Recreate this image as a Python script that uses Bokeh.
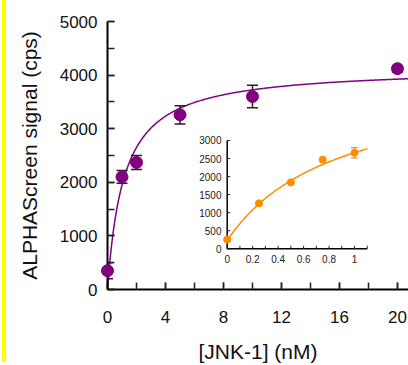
import numpy as np
from bokeh.plotting import figure
from bokeh.models import Range1d, SingleIntervalTicker
from bokeh.embed import file_html
from bokeh.resources import INLINE
from bokeh.core.properties import value

# ---------------- data ----------------
jnk_nM = [0, 1, 2, 5, 10, 20]
signal_cps = [350, 2100, 2370, 3260, 3600, 4120]
signal_err = [150, 120, 130, 170, 210, 60]
fit_bmax = 4146
fit_kd = 1.13

inset_x = [0, 0.25, 0.5, 0.75, 1.0]
inset_y = [260, 1260, 1840, 2470, 2660]
inset_err = [40, 40, 40, 40, 140]
inset_b0 = 230
inset_bmax = 4548
inset_kd = 0.87

inset_xtick_vals = [0, 0.2, 0.4, 0.6, 0.8, 1.0]
inset_xtick_labels = ["0", "0.2", "0.4", "0.6", "0.8", "1"]
inset_xminor_vals = [0, 0.1, 0.2, 0.3, 0.4, 0.5, 0.6, 0.7, 0.8, 0.9, 1.0, 1.1]
inset_ytick_vals = [0, 500, 1000, 1500, 2000, 2500, 3000]
inset_ytick_labels = ["0", "500", "1000", "1500", "2000", "2500", "3000"]
inset_x_max = 1.1
inset_y_max = 3000

x_title = "[JNK-1] (nM)"
y_title = "ALPHAScreen signal (cps)"

PURPLE = "#800080"
ORANGE = "#FF8C00"
FONT = "Liberation Sans"

X_END = 20.76
p = figure(width=408, height=365, x_range=Range1d(0, X_END), y_range=Range1d(0, 5000),
           output_backend="svg", toolbar_location=None,
           min_border_left=107, min_border_right=0, min_border_top=21, min_border_bottom=76)
p.xgrid.visible = False
p.ygrid.visible = False
p.outline_line_color = None
p.background_fill_color = "white"
# transparent border area so the page background (with the yellow edge stripe) shows
p.border_fill_color = None
p.styles = {
    "background-color": "white",
    "background-image": "linear-gradient(to right, #FFFF00, #FFFF00)",
    "background-size": "4px 362px",
    "background-position": "2px 0px",
    "background-repeat": "no-repeat",
}

p.xaxis.ticker = SingleIntervalTicker(interval=4, num_minor_ticks=2)
p.yaxis.ticker = SingleIntervalTicker(interval=1000, num_minor_ticks=2)
for ax in (p.xaxis, p.yaxis):
    ax.axis_line_width = 2
    ax.axis_line_color = "black"
    ax.major_tick_in = 7
    ax.major_tick_out = 0
    ax.minor_tick_in = 7
    ax.minor_tick_out = 0
    ax.major_tick_line_width = 1.5
    ax.minor_tick_line_width = 1.5
    ax.major_tick_line_color = "#222"
    ax.minor_tick_line_color = "#222"
    ax.major_label_text_font = FONT
    ax.major_label_text_font_size = "17px"
    ax.major_label_text_color = "#111"
    ax.axis_label_text_font = FONT
    ax.axis_label_text_font_size = "21px"
    ax.axis_label_text_font_style = "normal"
    ax.axis_label_text_color = "#111"
p.xaxis.axis_label = x_title
p.yaxis.axis_label = y_title
p.xaxis.major_label_standoff = 21
p.xaxis.axis_label_standoff = 14
p.yaxis.major_label_standoff = 10
p.yaxis.axis_label_standoff = 16

# main fit curve
xs = np.linspace(0, X_END, 400)
p.line(xs, fit_bmax * xs / (fit_kd + xs), line_color=PURPLE, line_width=1.5)

# main error bars
lo = [y - e for y, e in zip(signal_cps, signal_err)]
hi = [y + e for y, e in zip(signal_cps, signal_err)]
p.segment(x0=jnk_nM, y0=lo, x1=jnk_nM, y1=hi, line_color="#222", line_width=1.5)
p.scatter(jnk_nM, lo, marker="dash", size=11, line_color="#222", line_width=1.5)
p.scatter(jnk_nM, hi, marker="dash", size=11, line_color="#222", line_width=1.5)
p.scatter(jnk_nM, signal_cps, size=12, fill_color=PURPLE, line_color=PURPLE, level="overlay")

# ---------------- inset ----------------
p.extra_x_ranges = {"ix": Range1d(-0.940, 1.424)}
p.extra_y_ranges = {"iy": Range1d(-1127, 6296)}
kw = dict(x_range_name="ix", y_range_name="iy")

p.segment(x0=[0, 0], y0=[0, 0], x1=[inset_x_max, 0], y1=[0, inset_y_max],
          line_color="black", line_width=1.5, **kw)
p.segment(x0=inset_xminor_vals, y0=[0] * len(inset_xminor_vals),
          x1=inset_xminor_vals, y1=[85] * len(inset_xminor_vals),
          line_color="#222", line_width=1, **kw)
p.segment(x0=[0] * len(inset_ytick_vals), y0=inset_ytick_vals,
          x1=[0.024] * len(inset_ytick_vals), y1=inset_ytick_vals,
          line_color="#222", line_width=1, **kw)
p.text(x=inset_xtick_vals, y=[-275] * len(inset_xtick_vals), text=inset_xtick_labels,
       text_align="center", text_baseline="middle", text_font=value(FONT),
       text_font_size="10px", text_color="#222", **kw)
p.text(x=[-0.045] * len(inset_ytick_vals), y=inset_ytick_vals, text=inset_ytick_labels,
       text_align="right", text_baseline="middle", text_font=value(FONT),
       text_font_size="10px", text_color="#222", **kw)

ixs = np.linspace(0, inset_x_max, 200)
p.line(ixs, inset_b0 + inset_bmax * ixs / (inset_kd + ixs), line_color=ORANGE, line_width=1.5, **kw)
ilo = [y - e for y, e in zip(inset_y, inset_err)]
ihi = [y + e for y, e in zip(inset_y, inset_err)]
p.segment(x0=inset_x, y0=ilo, x1=inset_x, y1=ihi, line_color=ORANGE, line_width=1.2, **kw)
p.scatter(inset_x, ilo, marker="dash", size=7, line_color=ORANGE, line_width=1.2, **kw)
p.scatter(inset_x, ihi, marker="dash", size=7, line_color=ORANGE, line_width=1.2, **kw)
p.scatter(inset_x, inset_y, size=7, fill_color=ORANGE, line_color=ORANGE, **kw)

open("out.html", "w").write(file_html(p, INLINE))
